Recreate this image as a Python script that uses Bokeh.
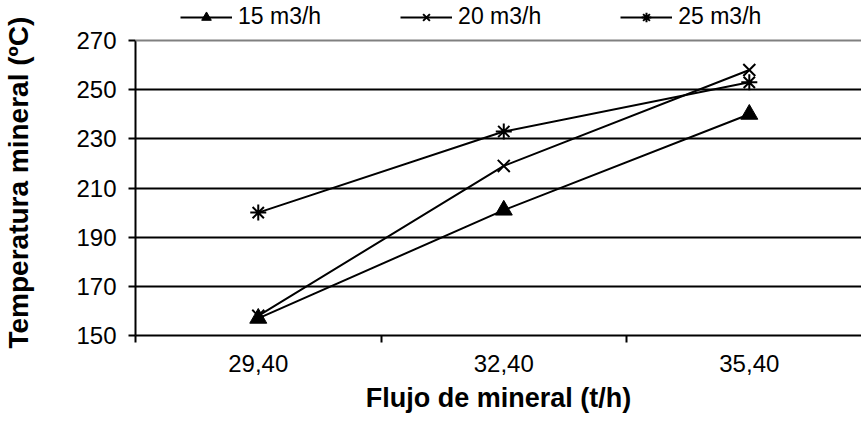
from bokeh.plotting import figure
from bokeh.models import FixedTicker, Legend, LegendItem, Range1d, Span, Title
from bokeh.embed import file_html
from bokeh.resources import INLINE

categories = ["29,40", "32,40", "35,40"]
s15 = [157, 201, 240]
s20 = [158, 219, 258]
s25 = [200, 233, 253]
y_ticks = [150, 170, 190, 210, 230, 250, 270]

FONT = "Liberation Sans"
xs = list(range(len(categories)))

# frame spans the full top of the page so the legend row can sit inside it
p = figure(width=861, height=425, output_backend="svg", toolbar_location=None,
           x_range=Range1d(-0.5, 2.457), y_range=Range1d(150, 286.3),
           min_border_left=135, min_border_right=0, min_border_top=0, min_border_bottom=90)
p.background_fill_color = "white"
p.border_fill_color = "white"
p.outline_line_color = None

p.xgrid.visible = False
p.ygrid.ticker = FixedTicker(ticks=y_ticks[:-1])
p.ygrid.grid_line_color = "black"
p.ygrid.grid_line_width = 2
p.add_layout(Span(location=y_ticks[-1], dimension="width", line_color="#808080", line_width=2))

p.xaxis.ticker = FixedTicker(ticks=xs, minor_ticks=[-0.5, 0.5, 1.5, 2.5])
p.xaxis.major_label_overrides = {i: c for i, c in enumerate(categories)}
p.xaxis.major_tick_line_color = None
p.xaxis.minor_tick_in = 0
p.xaxis.minor_tick_out = 7
p.xaxis.minor_tick_line_width = 2
p.yaxis.ticker = FixedTicker(ticks=y_ticks)
p.yaxis.bounds = (y_ticks[0], y_ticks[-1])
p.yaxis.minor_tick_line_color = None
p.yaxis.major_tick_in = 0
p.yaxis.major_tick_out = 7
p.yaxis.major_tick_line_width = 2
for ax in (p.xaxis, p.yaxis):
    ax.axis_line_color = "black"
    ax.axis_line_width = 2
    ax.major_label_text_font = FONT
    ax.major_label_text_font_size = "24px"
    ax.major_label_text_color = "black"
p.xaxis.axis_label = "Flujo de mineral (t/h)"
p.xaxis.axis_label_text_font = FONT
p.xaxis.axis_label_text_font_style = "bold"
p.xaxis.axis_label_text_color = "black"
p.xaxis.axis_label_text_font_size = "27px"
p.xaxis.major_label_standoff = 12
p.xaxis.axis_label_standoff = 8
p.yaxis.major_label_standoff = 12
# blank spacer label so the title below sits further out to the left
p.yaxis.axis_label = " "
p.yaxis.axis_label_text_font_size = "10px"
p.yaxis.axis_label_standoff = 26

ytitle = Title(text="Temperatura mineral (ºC)", align="left", offset=-13,
               text_font=FONT, text_font_size="28px", text_font_style="bold",
               text_color="black", standoff=0)
p.add_layout(ytitle, "left")

l1 = p.line(xs, s15, line_color="black", line_width=2)
m1 = p.scatter(xs, s15, marker="triangle", size=17, fill_color="black", line_color="black")
l2 = p.line(xs, s20, line_color="black", line_width=2)
m2 = p.scatter(xs, s20, marker="x", size=17, line_color="black", line_width=2)
l3 = p.line(xs, s25, line_color="black", line_width=2)
m3 = p.scatter(xs, s25, marker="asterisk", size=16, line_color="black", line_width=2)

legend = Legend(items=[LegendItem(label="15 m3/h", renderers=[l1, m1]),
                       LegendItem(label="20 m3/h", renderers=[l2, m2]),
                       LegendItem(label="25 m3/h", renderers=[l3, m3])],
                orientation="horizontal", location=(45, 305),
                glyph_width=52, glyph_height=24, label_standoff=6, spacing=79,
                padding=0, margin=0, border_line_color=None, background_fill_alpha=0,
                label_text_font=FONT, label_text_font_size="23px", label_text_color="black")
p.add_layout(legend, "center")

open("out.html", "w").write(file_html(p, INLINE))
